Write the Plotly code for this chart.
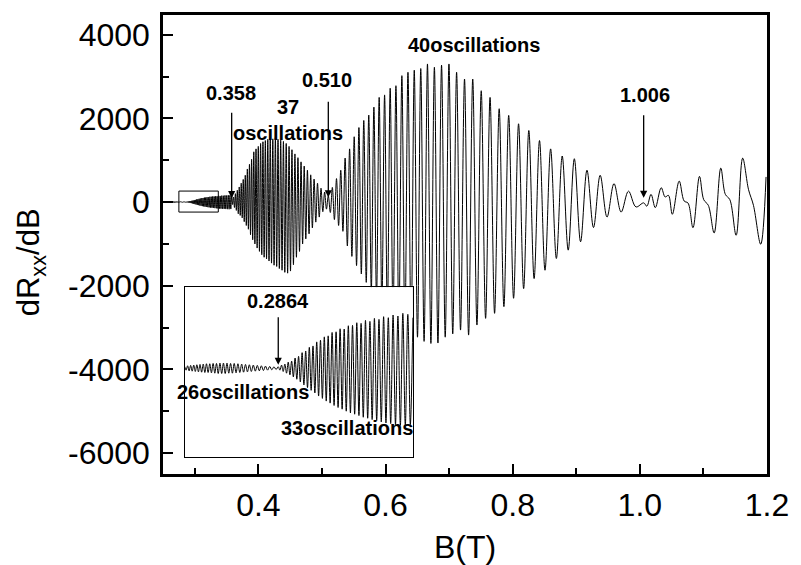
import plotly.graph_objects as go

# Beat nodes (T) that bound each run of oscillations, and how many oscillations each run holds
node_fields = [0.2366, 0.2864, 0.358, 0.510, 1.006]
osc_counts = [26, 33, 37, 40]

# Turning-point values of dRxx/dB in every run: maxima and minima, in order of rising field.
# The first run lists its starting maximum too; later runs start from the previous run's last maximum.
run1_max = [5, 7, 8, 9, 10, 11, 12, 13, 13, 14, 14, 15, 15, 15, 14, 14, 13, 12, 11, 10, 9, 8, 7, 6, 5, 4, 4]
run1_min = [-6, -8, -9, -10, -11, -12, -13, -13, -14, -15, -16, -16, -16, -15, -15, -14, -13, -12, -11, -10,
            -9, -8, -7, -6, -5, -4]
run2_max = [9, 12, 18, 21, 30, 35, 46, 51, 62, 66, 78, 83, 93, 96, 106, 108, 117, 116, 126, 127, 135, 133,
            142, 139, 148, 145, 153, 150, 158, 155, 163, 160, 150]
run2_min = [-6, -10, -15, -20, -26, -33, -41, -50, -58, -66, -74, -83, -90, -98, -104, -111, -117, -122,
            -128, -133, -137, -141, -146, -149, -153, -156, -160, -163, -165, -168, -170, -172, -168]
run3_max = [120, 200, 280, 360, 450, 540, 640, 790, 900, 1020, 1200, 1270, 1330, 1400, 1440, 1470, 1500,
            1530, 1510, 1540, 1500, 1480, 1450, 1400, 1330, 1250, 1150, 1060, 960, 860, 760, 650, 550, 450,
            330, 240, 150]
run3_min = [-60, -130, -200, -280, -320, -380, -470, -560, -650, -780, -900, -1000, -1100, -1180, -1260,
            -1320, -1360, -1410, -1460, -1510, -1540, -1590, -1630, -1680, -1700, -1650, -1500, -1320, -1180,
            -1000, -880, -760, -620, -480, -360, -230, -170]
run4_max = [350, 560, 760, 1050, 1270, 1560, 1780, 1950, 2080, 2270, 2500, 2560, 2720, 2780, 3020, 3100,
            3150, 3190, 3300, 3220, 3270, 3300, 3100, 2940, 2940, 2660, 2500, 2230, 2070, 1870, 1710, 1470,
            1270, 1100, 1035, 760, 640, 440, 260, -20]
run4_min = [-250, -420, -560, -700, -1050, -1300, -1520, -1720, -1920, -2120, -2330, -2500, -2680, -2840,
            -3000, -3120, -3220, -3230, -3330, -3380, -3370, -3230, -3150, -3060, -3180, -2940, -2780, -2660,
            -2500, -2300, -2070, -1830, -1630, -1350, -1150, -950, -610, -360, -240, -117]

# Above 1.006 T the trace is irregular; its turning points are listed field by field
tail_field = [1.011, 1.0176, 1.0243, 1.0336, 1.0398, 1.045, 1.0511, 1.0619, 1.0697, 1.0758, 1.0836,
              1.0938, 1.1005, 1.1077, 1.1169, 1.1273, 1.1345, 1.1416, 1.1515, 1.1617, 1.171, 1.1787,
              1.1901, 1.1985]
tail_value = [-100, 184, -134, 343, 120, 160, -293, 501, 24, -24, -613, 613, 56, -79, -739, 811, 183, 56,
              -795, 1049, 294, -79, -1009, 600]

# Tick labels
x_tick_values = [0.4, 0.6, 0.8, 1.0, 1.2]
x_tick_labels = ["0.4", "0.6", "0.8", "1.0", "1.2"]
y_tick_values = [-6000, -4000, -2000, 0, 2000, 4000]
y_tick_labels = ["-6000", "-4000", "-2000", "0", "2000", "4000"]

# Annotated node fields
label_fields = ["0.358", "0.510", "1.006"]
inset_label = "0.2864"

runs_max = [run1_max, run2_max, run3_max, run4_max]
runs_min = [run1_min, run2_min, run3_min, run4_min]


def run_points(b_start, b_end, n, maxima, minima, first):
    """Turning points of one run, evenly spaced in 1/B (SdH periodicity)."""
    u0, u1 = 1.0 / b_start, 1.0 / b_end
    step = (u0 - u1) / (2 * n)
    fields, values = [], []
    for k in range(0 if first else 1, 2 * n + 1):
        fields.append(1.0 / (u0 - k * step))
        if k % 2:
            values.append(minima[(k - 1) // 2])
        else:
            values.append(maxima[k // 2] if first else maxima[k // 2 - 1])
    return fields, values


field, signal = [], []
for i, n in enumerate(osc_counts):
    f, v = run_points(node_fields[i], node_fields[i + 1], n, runs_max[i], runs_min[i], i == 0)
    field += f
    signal += v
    if i == 1:
        inset_field, inset_signal = list(field), list(signal)
field += tail_field
signal += tail_value

fig = go.Figure()
line = dict(color="black", width=1, shape="spline", smoothing=1)
fig.add_trace(go.Scatter(x=field, y=signal, mode="lines", line=line, hoverinfo="skip"))
fig.add_trace(go.Scatter(x=inset_field, y=inset_signal, mode="lines", line=line,
                         xaxis="x2", yaxis="y2", hoverinfo="skip"))

tick_font = dict(family="Liberation Sans, Arial, sans-serif", size=32, color="black")
fig.update_layout(
    width=801, height=565,
    margin=dict(l=163, r=24, t=14, b=91),
    paper_bgcolor="white", plot_bgcolor="white",
    showlegend=False,
    xaxis=dict(range=[0.25, 1.2], tickmode="array", tickvals=x_tick_values, ticktext=x_tick_labels,
               ticks="inside", ticklen=10, tickwidth=2, tickcolor="black",
               minor=dict(tick0=0.3, dtick=0.2, ticks="inside", ticklen=6, tickwidth=2,
                          tickcolor="black"),
               showline=True, linewidth=2.5, linecolor="black", mirror=True,
               showgrid=False, zeroline=False, tickfont=tick_font, ticklabelstandoff=1),
    yaxis=dict(range=[-6500, 4470], tickmode="array", tickvals=y_tick_values, ticktext=y_tick_labels,
               ticks="inside", ticklen=10, tickwidth=2, tickcolor="black",
               minor=dict(tick0=1000, dtick=2000, ticks="inside", ticklen=6, tickwidth=2,
                          tickcolor="black"),
               showline=True, linewidth=2.5, linecolor="black", mirror=True,
               showgrid=False, zeroline=False, tickfont=tick_font, ticklabelstandoff=4),
    xaxis2=dict(domain=[0.0358, 0.4137], anchor="y2", range=[node_fields[0], node_fields[2]],
                showline=True, linewidth=1.2, linecolor="black", mirror=True,
                showticklabels=False, ticks="", showgrid=False, zeroline=False),
    yaxis2=dict(domain=[0.0365, 0.4072], anchor="x2", range=[-265, 241],
                showline=True, linewidth=1.2, linecolor="black", mirror=True,
                showticklabels=False, ticks="", showgrid=False, zeroline=False),
)

# Frame marking the low-field window on the main trace
fig.add_shape(type="rect", x0=0.275, x1=0.337, y0=-240, y1=262,
              line=dict(color="black", width=1), xref="x", yref="y")

bold = dict(family="Liberation Sans, Arial, sans-serif", size=20, color="black")
texts = [
    ("x", "y", 0.3563, 2598, "<b>0.358</b>"),
    ("x", "y", 0.4465, 1966, "<b>37<br>oscillations</b>"),
    ("x", "y", 0.5084, 2920, "<b>0.510</b>"),
    ("x", "y", 0.7389, 3755, "<b>40oscillations</b>"),
    ("x", "y", 1.0079, 2569, "<b>1.006</b>"),
    ("x2", "y2", 0.2862, 199, "<b>0.2864</b>"),
    ("x2", "y2", 0.2675, -72, "<b>26oscillations</b>"),
    ("x2", "y2", 0.3229, -177, "<b>33oscillations</b>"),
]
for xr, yr, x, y, t in texts:
    fig.add_annotation(x=x, y=y, xref=xr, yref=yr, text=t, showarrow=False, font=bold,
                       xanchor="center", yanchor="middle")

# Arrows pointing at the beat nodes
arrows = [
    ("x", "y", float(label_fields[0]), 90, 87),
    ("x", "y", float(label_fields[1]), 112, 97),
    ("x", "y", float(label_fields[2]), 100, 84),
    ("x2", "y2", float(inset_label), 10, 49),
]
for xr, yr, x, y, length in arrows:
    fig.add_annotation(x=x, y=y, xref=xr, yref=yr, text="", showarrow=True, ax=0, ay=-length,
                       arrowhead=2, arrowsize=1.1, arrowwidth=1.3, arrowcolor="black", standoff=0)

# Axis titles
fig.add_annotation(x=0.5, y=-0.158, xref="paper", yref="paper", text="B(T)", showarrow=False,
                   font=dict(family="Liberation Sans, Arial, sans-serif", size=32, color="black"),
                   xanchor="center", yanchor="middle")
fig.add_annotation(x=-0.218, y=0.462, xref="paper", yref="paper", text="dR<sub>xx</sub>/dB",
                   textangle=-90, showarrow=False,
                   font=dict(family="Liberation Sans, Arial, sans-serif", size=31, color="black"),
                   xanchor="center", yanchor="middle")

fig.write_html("out.html")
